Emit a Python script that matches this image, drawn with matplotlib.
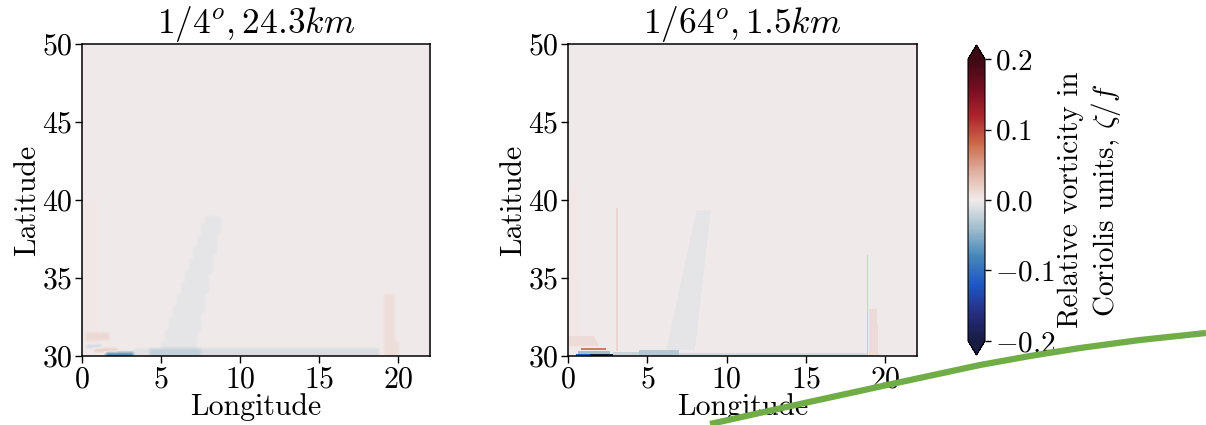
import numpy as np
import matplotlib
matplotlib.use("Agg")
import matplotlib.pyplot as plt
from matplotlib.colors import LinearSegmentedColormap
from matplotlib.lines import Line2D

plt.rcParams["font.family"] = "serif"
plt.rcParams["font.serif"] = ["cmr10"]
plt.rcParams["mathtext.fontset"] = "cm"
plt.rcParams["axes.formatter.use_mathtext"] = True

# panel titles
titles = [r"$1/4^o, 24.3km$", r"$1/64^o, 1.5km$"]
grid_res = [0.25, 1.0 / 16.0]  # degrees

lon_range = (0.0, 22.0)
lat_range = (30.0, 50.0)

# features:
# (lon_w at lat_s, lon_e at lat_s, lon_w at lat_n, lon_e at lat_n, lat_s, lat_n, zeta/f)
features_quarter = [
    (0.0, 1.0, 0.0, 1.0, 30.8, 40.0, 0.003),
    (0.2, 1.8, 0.2, 1.6, 30.9, 31.6, 0.012),
    (0.3, 1.2, 0.3, 1.2, 30.55, 30.8, -0.015),
    (0.8, 2.2, 0.8, 2.2, 30.3, 30.55, 0.02),
    (1.45, 3.2, 1.45, 3.2, 30.0, 30.3, -0.07),
    (3.2, 4.3, 3.2, 4.3, 30.0, 30.5, -0.008),
    (4.3, 7.5, 4.3, 7.5, 30.0, 30.6, -0.022),
    (7.5, 18.7, 7.5, 18.7, 30.0, 30.5, -0.012),
    (5.0, 7.2, 7.8, 8.9, 30.6, 39.0, -0.006),
    (19.0, 19.9, 19.1, 19.8, 30.0, 34.0, 0.008),
]

features_64th = [
    (0.0, 0.8, 0.0, 0.6, 30.5, 41.0, 0.003),
    (0.0, 2.0, 0.0, 1.6, 30.6, 31.3, 0.01),
    (0.8, 2.4, 0.8, 2.4, 30.35, 30.5, 0.07),
    (0.6, 2.6, 0.6, 2.6, 30.15, 30.3, -0.04),
    (0.5, 1.4, 0.5, 1.4, 30.0, 30.12, -0.12),
    (1.4, 2.8, 1.4, 2.8, 30.0, 30.15, -0.22),
    (2.8, 4.5, 2.8, 4.5, 30.0, 30.25, -0.02),
    (4.5, 7.0, 4.5, 7.0, 30.0, 30.35, -0.03),
    (7.0, 18.9, 7.0, 18.9, 30.0, 30.2, -0.015),
    (3.0, 3.1, 3.0, 3.1, 30.3, 39.5, 0.015),
    (6.2, 8.0, 8.1, 9.0, 30.4, 39.4, -0.006),
    (18.85, 18.95, 18.85, 18.95, 30.0, 36.5, 0.025),
    (19.0, 19.6, 19.0, 19.5, 30.0, 33.0, 0.01),
]

cbar_ticks = [-0.2, -0.1, 0.0, 0.1, 0.2]

# approximation of cmocean "balance"
balance_colors = [
    (24, 28, 67), (38, 46, 130), (30, 88, 196), (70, 135, 185),
    (160, 190, 205), (241, 235, 235), (224, 176, 160), (204, 106, 74),
    (170, 36, 44), (115, 14, 34), (60, 9, 18),
]
balance = LinearSegmentedColormap.from_list(
    "balance", [tuple(c / 255 for c in rgb) for rgb in balance_colors])

# decorative stroke across the lower right (figure pixel points, from top-left)
stroke_px = [710, 800, 887, 980, 1030, 1080, 1140, 1206]
stroke_py = [424, 404, 385, 365, 356, 348, 340, 333]


def build_field(features, res):
    lon = np.arange(lon_range[0] + res / 2, lon_range[1], res)
    lat = np.arange(lat_range[0] + res / 2, lat_range[1], res)
    field = np.zeros((lat.size, lon.size))
    for w0, e0, w1, e1, ls, ln, val in features:
        rows = np.where((lat >= ls) & (lat <= ln))[0]
        if rows.size == 0:
            rows = [np.argmin(np.abs(lat - (ls + ln) / 2))]
        for j in rows:
            f = (lat[j] - ls) / (ln - ls)
            lw = w0 + f * (w1 - w0)
            le = e0 + f * (e1 - e0)
            mi = (lon >= lw) & (lon <= le)
            if not mi.any():
                mi[np.argmin(np.abs(lon - (lw + le) / 2))] = True
            field[j, mi] = val
    return field


W, H = 1206, 425
fig = plt.figure(figsize=(W / 100, H / 100), dpi=100)
ax_pos = [[82 / W, 1 - 356 / H, 348 / W, 312 / H],
          [568 / W, 1 - 356 / H, 349 / W, 312 / H]]

for k, feats in enumerate([features_quarter, features_64th]):
    ax = fig.add_axes(ax_pos[k])
    field = build_field(feats, grid_res[k])
    im = ax.imshow(field, extent=[lon_range[0], lon_range[1], lat_range[0], lat_range[1]],
                   origin="lower", aspect="auto", cmap=balance, vmin=-0.2, vmax=0.2,
                   interpolation="bilinear" if k == 0 else "nearest")
    ax.set_xlim(lon_range)
    ax.set_ylim(lat_range)
    ax.set_xticks([0, 5, 10, 15, 20])
    ax.set_yticks([30, 35, 40, 45, 50])
    ax.tick_params(labelsize=21.5, length=5, width=1, pad=2)
    ax.set_xlabel("Longitude", fontsize=21.5, labelpad=0)
    ax.set_ylabel("Latitude", fontsize=21.5, labelpad=0)
    ax.set_title(titles[k], fontsize=25.5, pad=5)
    for sp in ax.spines.values():
        sp.set_linewidth(1.1)

cax = fig.add_axes([968 / W, 1 - 355 / H, 17 / W, 310 / H])
cb = fig.colorbar(im, cax=cax, extend="both", ticks=cbar_ticks)
cb.ax.tick_params(labelsize=21, length=4, width=1, pad=3)
cb.outline.set_linewidth(0.8)
cb.set_label("Relative vorticity in\nCoriolis units, $\\zeta/f$", fontsize=21, labelpad=2)

fig.add_artist(Line2D([x / W for x in stroke_px], [1 - y / H for y in stroke_py],
                      transform=fig.transFigure, color="#70ad47",
                      linewidth=4.5, solid_capstyle="butt"))

fig.savefig("out.png", dpi=100)
